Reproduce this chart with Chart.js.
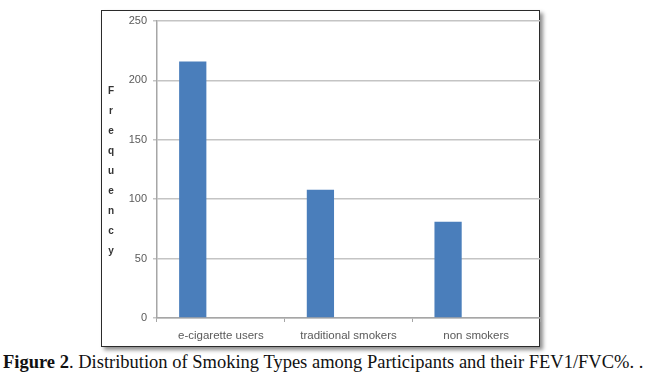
<!DOCTYPE html>
<html>
<head>
<meta charset="utf-8">
<script src="https://cdn.jsdelivr.net/npm/chart.js@4"></script>
<style>
  body { margin: 0; background: #fff; width: 652px; height: 388px; position: relative; overflow: hidden; }
  #frame {
    position: absolute; left: 101px; top: 10px; width: 437px; height: 335px;
    border: 1.5px solid #2b2b2b;
    box-shadow: 3px 3px 4px rgba(0,0,0,0.45);
    background: #fff;
  }
  #wrap { position: absolute; left: 0; top: 0; width: 652px; height: 350px; }
  #caption {
    position: absolute; left: 3px; top: 352px; white-space: nowrap;
    font-family: "Liberation Serif", "DejaVu Serif", serif; font-size: 18.5px; color: #111;
  }
</style>
</head>
<body>
<div id="frame"></div>
<div id="wrap"><canvas id="chart" width="652" height="350"></canvas></div>
<div id="caption"><b>Figure 2</b>. Distribution of Smoking Types among Participants and their FEV1/FVC%. .</div>
<script>
const categories = ["e-cigarette users", "traditional smokers", "non smokers"];
const frequency = [216, 108, 81];
const emptySeries = [null, null, null]; // Excel left an empty second slot in each cluster
const yTicks = [0, 50, 100, 150, 200, 250];
const yTitle = "Frequency";

// stacked upright letters for the y axis title
const letterTitle = {
  id: "letterTitle",
  afterDraw(chart) {
    const ctx = chart.ctx;
    ctx.save();
    ctx.font = "bold 10px 'Liberation Sans', Arial, sans-serif";
    ctx.fillStyle = "#333";
    ctx.textAlign = "center";
    ctx.textBaseline = "middle";
    const letters = yTitle.split("");
    const mid = (chart.chartArea.top + chart.chartArea.bottom) / 2;
    const step = 20;
    letters.forEach((ch, i) => {
      ctx.fillText(ch, 111, mid + (i - (letters.length - 1) / 2) * step + 2);
    });
    ctx.restore();
  }
};

const ctx = document.getElementById("chart").getContext("2d");
new Chart(ctx, {
  type: "bar",
  data: {
    labels: categories,
    datasets: [
      { label: "Frequency", data: frequency, backgroundColor: "#4a7ebb", borderWidth: 0 },
      { label: "", data: emptySeries, backgroundColor: "#4a7ebb" }
    ]
  },
  options: {
    responsive: false,
    animation: false,
    events: [],
    categoryPercentage: 0.88,
    barPercentage: 0.485,
    layout: { padding: { left: 100, right: 112, top: 21, bottom: 0 } },
    plugins: { legend: { display: false }, tooltip: { enabled: false } },
    scales: {
      x: {
        afterFit: s => { s.height = 32; },
        grid: { drawOnChartArea: false, tickLength: 4, color: "#a6a6a6", lineWidth: 1 },
        border: { color: "#a6a6a6", width: 1.5 },
        ticks: {
          color: "#5a5a5a", padding: 7,
          font: { family: "'Liberation Sans', Arial, sans-serif", size: 11.5 }
        }
      },
      y: {
        min: 0, max: 250,
        afterFit: s => { s.width = 57; },
        afterBuildTicks: s => { s.ticks = yTicks.map(v => ({ value: v })); },
        grid: { color: "#c4c4c4", lineWidth: 1.5, tickLength: 4 },
        border: { color: "#a6a6a6", width: 1.5 },
        ticks: {
          color: "#5a5a5a", padding: 6,
          font: { family: "'Liberation Sans', Arial, sans-serif", size: 11 }
        }
      }
    }
  },
  plugins: [letterTitle]
});
</script>
</body>
</html>
